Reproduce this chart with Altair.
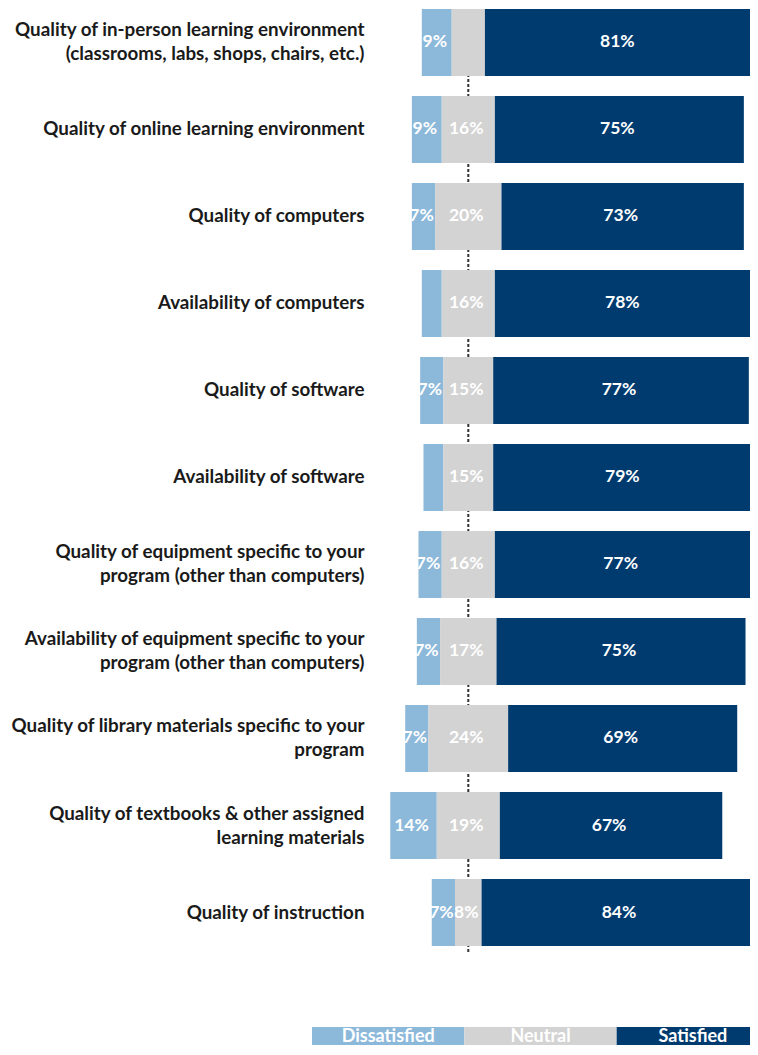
import altair as alt
import pandas as pd

items = [
    "Quality of in-person learning environment\n(classrooms, labs, shops, chairs, etc.)",
    "Quality of online learning environment",
    "Quality of computers",
    "Availability of computers",
    "Quality of software",
    "Availability of software",
    "Quality of equipment specific to your\nprogram (other than computers)",
    "Availability of equipment specific to your\nprogram (other than computers)",
    "Quality of library materials specific to your\nprogram",
    "Quality of textbooks & other assigned\nlearning materials",
    "Quality of instruction",
]
dissatisfied = [9, 9, 7, 6, 7, 6, 7, 7, 7, 14, 7]
neutral = [10, 16, 20, 16, 15, 15, 16, 17, 24, 19, 8]
satisfied = [81, 75, 73, 78, 77, 79, 77, 75, 69, 67, 84]
dis_labels = ["9%", "9%", "7%", "", "7%", "", "7%", "7%", "7%", "14%", "7%"]
neu_labels = ["", "16%", "20%", "16%", "15%", "15%", "16%", "17%", "24%", "19%", "8%"]
sat_labels = ["81%", "75%", "73%", "78%", "77%", "79%", "77%", "75%", "69%", "67%", "84%"]
categories = ["Dissatisfied", "Neutral", "Satisfied"]
colors = ["#8CB8DA", "#D3D3D3", "#003B70"]

rows = []
for i, item in enumerate(items):
    d, n, s = dissatisfied[i], neutral[i], satisfied[i]
    segs = [
        ("Dissatisfied", -(d + n / 2), -n / 2, dis_labels[i]),
        ("Neutral", -n / 2, n / 2, neu_labels[i]),
        ("Satisfied", n / 2, n / 2 + s, sat_labels[i]),
    ]
    for cat, a, b, lab in segs:
        rows.append({"item": item, "category": cat, "start": a, "end": b,
                     "mid": (a + b) / 2, "label": lab})
df = pd.DataFrame(rows)

FONT = "Lato"
x_scale = alt.Scale(domain=[-47.08, 84.85], nice=False, zero=False)
color_scale = alt.Scale(domain=categories, range=colors)

y_enc = alt.Y(
    "item:N", sort=items,
    scale=alt.Scale(paddingInner=0.23, paddingOuter=0.046, align=0),
    axis=alt.Axis(
        title=None, labelExpr="split(datum.label, '\\n')", labelFont=FONT,
        labelFontSize=18.8, labelFontWeight="bold", labelColor="#1a1a1a",
        labelLineHeight=24, labelPadding=-52, labelLimit=400,
        labelOffset={"condition": {"test": "indexof(datum.value, '\\n') >= 0",
                                   "value": -12}, "value": 0},
        minExtent=304, maxExtent=304, ticks=False, domain=False,
        labelAlign="right", labelBaseline="middle",
    ),
)

rule = alt.Chart(pd.DataFrame({"x": [0]})).mark_rule(
    strokeDash=[3, 2], strokeWidth=2, color="#333333"
).encode(x=alt.X("x:Q", scale=x_scale, axis=None))

bars = alt.Chart(df).mark_bar(clip=True).encode(
    x=alt.X("start:Q", scale=x_scale, axis=None),
    x2="end:Q",
    y=y_enc,
    color=alt.Color("category:N", scale=color_scale, legend=None),
)

texts = alt.Chart(df).mark_text(
    font=FONT, fontSize=17.5, fontWeight="bold", color="white", dx=-2
).encode(
    x=alt.X("mid:Q", scale=x_scale, axis=None),
    y=alt.Y("item:N", sort=items),
    text="label:N",
)

main = alt.layer(rule, bars, texts).properties(width=438, height=945)

leg_df = pd.DataFrame({"category": categories})
leg_x = alt.X("category:N", sort=categories, axis=None,
              scale=alt.Scale(range=[0, 457], paddingInner=0, paddingOuter=0))
leg_rect = alt.Chart(leg_df).mark_rect(clip=True).encode(
    x=leg_x, color=alt.Color("category:N", scale=color_scale, legend=None)
)
leg_text = alt.Chart(leg_df).mark_text(
    font=FONT, fontSize=18, fontWeight="bold", color="white", dy=1
).encode(x=leg_x, text="category:N")
legend = alt.layer(leg_rect, leg_text).properties(width=438, height=18)

chart = alt.vconcat(main, legend, spacing=72).properties(
    padding=0
).configure_view(stroke=None)

chart.save("out.html", embed_options={"renderer": "svg", "actions": False})
